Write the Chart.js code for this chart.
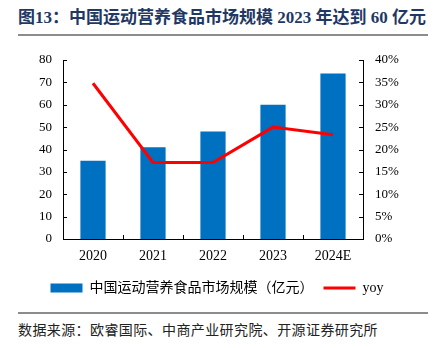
<!DOCTYPE html>
<html lang="zh">
<head>
  <meta charset="UTF-8">
  <title>中国运动营养食品市场规模</title>
  <script src="https://cdn.jsdelivr.net/npm/chart.js"></script>
  <style>
    body { margin: 0; width: 434px; height: 348px; background: #fff; position: relative; overflow: hidden;
           font-family: 'Liberation Serif', 'Noto Sans CJK SC', serif; }
    #title { position: absolute; left: 18px; top: 7px; font-size: 17px; font-weight: bold; color: #1f3864; line-height: 22px; white-space: nowrap; }
    .rule { position: absolute; left: 18px; width: 410px; height: 2px; background: #8c8c8c; }
    #source { position: absolute; left: 18px; top: 319px; font-size: 14px; color: #222; letter-spacing: 0.4px; white-space: nowrap; }
    #wrap { position: absolute; left: 0; top: 40px; width: 434px; height: 268px; }
  </style>
</head>
<body>
  <div id="title">图13：中国运动营养食品市场规模 2023 年达到 60 亿元</div>
  <div class="rule" style="top:34px"></div>
  <div id="wrap"><canvas id="chart" width="434" height="268"></canvas></div>
  <div class="rule" style="top:312px"></div>
  <div id="source">数据来源：欧睿国际、中商产业研究院、开源证券研究所</div>

  <script>
    const years = ['2020', '2021', '2022', '2023', '2024E'];
    const marketSize = [35, 41, 48, 60, 74];
    const yoyPct = [34.8, 17.1, 17.1, 25.0, 23.3];

    const serif = "'Liberation Serif', 'Noto Sans CJK SC', serif";

    // small inward tick marks like the original
    const innerTicks = {
      id: 'innerTicks',
      afterDraw(chart) {
        const { ctx, chartArea, scales } = chart;
        ctx.save();
        ctx.strokeStyle = '#000';
        ctx.lineWidth = 1;
        ctx.beginPath();
        scales.y.ticks.forEach(t => {
          const y = Math.round(scales.y.getPixelForValue(t.value)) + 0.5;
          ctx.moveTo(chartArea.left, y); ctx.lineTo(chartArea.left + 4, y);
        });
        scales.y1.ticks.forEach(t => {
          const y = Math.round(scales.y1.getPixelForValue(t.value)) + 0.5;
          ctx.moveTo(chartArea.right, y); ctx.lineTo(chartArea.right - 4, y);
        });
        for (let i = 1; i < years.length; i++) {
          const x = Math.round((scales.x.getPixelForValue(i - 1) + scales.x.getPixelForValue(i)) / 2) + 0.5;
          ctx.moveTo(x, chartArea.bottom); ctx.lineTo(x, chartArea.bottom - 4);
        }
        ctx.stroke();
        ctx.restore();
      }
    };

    new Chart(document.getElementById('chart'), {
      data: {
        labels: years,
        datasets: [
          {
            type: 'line', label: 'yoy', data: yoyPct, yAxisID: 'y1',
            borderColor: '#ff0000', backgroundColor: '#ff0000', borderWidth: 3,
            pointRadius: 0, pointStyle: 'line', tension: 0, order: 0
          },
          {
            type: 'bar', label: '中国运动营养食品市场规模（亿元）', data: marketSize, yAxisID: 'y',
            backgroundColor: '#0070c0', borderWidth: 0, pointStyle: 'rect',
            categoryPercentage: 1, barPercentage: 0.42, order: 1
          }
        ]
      },
      options: {
        responsive: false,
        animation: false,
        layout: { padding: { top: 20, bottom: 3 } },
        plugins: {
          tooltip: { enabled: false },
          legend: {
            position: 'bottom',
            reverse: true,
            labels: {
              usePointStyle: true, pointStyleWidth: 32, boxHeight: 9,
              color: '#000', padding: 10,
              font: { family: serif, size: 14 }
            }
          }
        },
        scales: {
          x: {
            grid: { display: false, drawTicks: false },
            border: { display: true, color: '#000', width: 1 },
            ticks: { color: '#000', padding: 9, font: { family: serif, size: 14 } },
            afterFit(s) { s.height = 32; }
          },
          y: {
            position: 'left', min: 0, max: 80,
            grid: { display: false, drawTicks: false },
            border: { display: true, color: '#000', width: 1 },
            ticks: { stepSize: 10, color: '#000', padding: 11, font: { family: serif, size: 13 } },
            afterFit(s) { s.width = 63; }
          },
          y1: {
            position: 'right', min: 0, max: 40,
            grid: { display: false, drawTicks: false },
            border: { display: true, color: '#000', width: 1 },
            ticks: { stepSize: 5, color: '#000', padding: 12, font: { family: serif, size: 13 },
                     callback: v => v + '%' },
            afterFit(s) { s.width = 71; }
          }
        }
      },
      plugins: [innerTicks]
    });
  </script>
</body>
</html>
